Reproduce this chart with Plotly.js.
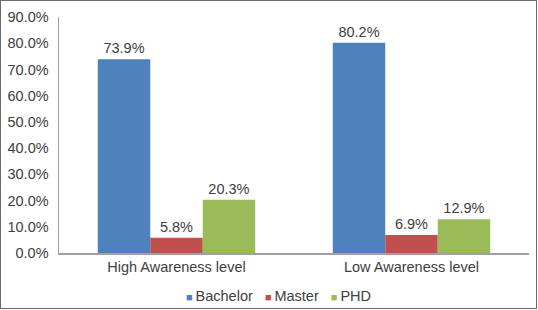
<!DOCTYPE html>
<html>
<head>
<meta charset="utf-8">
<script src="https://cdn.plot.ly/plotly-3.0.1.min.js"></script>
<style>
  html, body { margin: 0; padding: 0; background: #fff; }
  #frame { width: 537px; height: 309px; box-sizing: border-box; border: 1px solid #6a6a6a; border-right-width: 2px; border-bottom-width: 2px; }
  #chart { width: 535px; height: 307px; }
</style>
</head>
<body>
<div id="frame"><div id="chart"></div></div>
<script>
const categories = ["High Awareness level", "Low Awareness level"];
const seriesNames = ["Bachelor", "Master", "PHD"];
const bachelor = [0.739, 0.802];
const master = [0.058, 0.069];
const phd = [0.203, 0.129];
const yTickVals = [0, 0.1, 0.2, 0.3, 0.4, 0.5, 0.6, 0.7, 0.8, 0.9];
const colors = ["#4F81BD", "#C0504D", "#9BBB59"];

const FONT = "Liberation Sans, Arial, sans-serif";
const values = [bachelor, master, phd];

const traces = values.map((v, i) => ({
  type: "bar",
  name: seriesNames[i],
  x: categories,
  y: v,
  marker: { color: colors[i] },
  text: v.map(d => (d * 100).toFixed(1) + "%"),
  textposition: "outside",
  textfont: { family: FONT, size: 14.5, color: "#404040" },
  cliponaxis: false,
  showlegend: false,
  hoverinfo: "skip"
}));

const legendText = seriesNames.map((n, i) =>
  "<span style='color:" + colors[i] + ";font-size:11px'>\u25A0</span>\u2009" + n
).join("\u00A0\u00A0\u00A0");

const layout = {
  width: 535,
  height: 307,
  margin: { l: 58, r: 7, t: 16, b: 55 },
  paper_bgcolor: "#ffffff",
  plot_bgcolor: "#ffffff",
  barmode: "group",
  bargap: 0.33,
  bargroupgap: 0,
  font: { family: FONT, size: 14.5, color: "#404040" },
  xaxis: {
    showline: true,
    linecolor: "#a0a0a0",
    linewidth: 1.5,
    ticks: "",
    showgrid: false,
    zeroline: false,
    tickfont: { family: FONT, size: 14.5, color: "#404040" }
  },
  yaxis: {
    range: [0, 0.9],
    tickvals: yTickVals,
    ticktext: yTickVals.map(t => (t * 100).toFixed(1) + "%"),
    showline: true,
    linecolor: "#a0a0a0",
    linewidth: 1.5,
    ticks: "",
    ticklabelstandoff: 6,
    showgrid: false,
    zeroline: false,
    tickfont: { family: FONT, size: 14.5, color: "#404040" }
  },
  annotations: [{
    xref: "paper", yref: "paper",
    x: 0.466, y: -0.181,
    xanchor: "center", yanchor: "middle",
    showarrow: false,
    text: legendText,
    font: { family: FONT, size: 14.5, color: "#404040" }
  }]
};

Plotly.newPlot("chart", traces, layout, { displayModeBar: false, staticPlot: true });
</script>
</body>
</html>
